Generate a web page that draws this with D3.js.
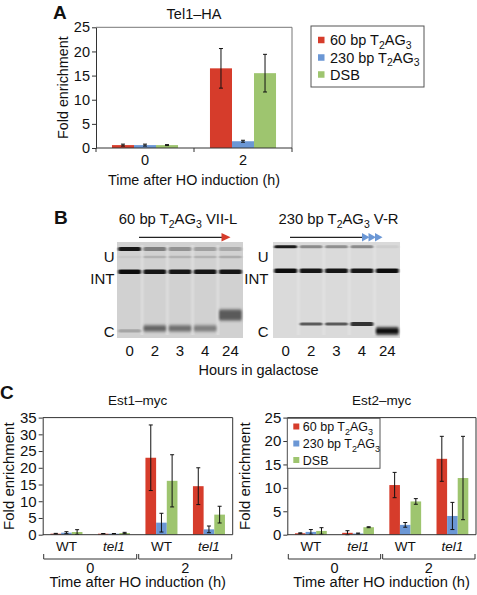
<!DOCTYPE html>
<html><head><meta charset="utf-8">
<script src="https://cdn.jsdelivr.net/npm/d3@7"></script>
<style>
body{margin:0;background:#fff}
svg{display:block;font-family:"Liberation Sans",Arial,Helvetica,sans-serif;fill:#111}
</style>
</head><body>
<svg id="c" width="477" height="595"></svg>
<script>
// ---------- shared series ----------
const seriesNames = ["60 bp T_2AG_3", "230 bp T_2AG_3", "DSB"];
const seriesColors = ["#d63c2b", "#6b97d5", "#9ec56f"];

// ---------- Panel A: Tel1-HA ----------
const tel1Categories = ["0", "2"];
const tel1Values = [[0.6, 0.6, 0.6], [16.5, 1.4, 15.5]];
const tel1Errors = [[0.2, 0.2, 0.1], [4.1, 0.2, 3.9]];
const tel1Ticks = [0, 5, 10, 15, 20, 25];

// ---------- Panel C ----------
const estStrains = ["WT", "tel1", "WT", "tel1"];
const estTimes = ["0", "2"];
const est1Values = [[0.3, 0.6, 0.8], [0.3, 0.3, 0.5], [23.0, 3.6, 16.1], [14.5, 1.6, 6.0]];
const est1Errors = [[0.1, 0.3, 0.7], [0.05, 0.05, 0.2], [9.8, 2.8, 7.8], [5.5, 1.0, 2.5]];
const est1Ticks = [0, 5, 10, 15, 20, 25, 30, 35];
const est2Values = [[0.3, 0.6, 0.8], [0.4, 0.25, 1.6], [10.6, 2.1, 7.1], [16.2, 4.0, 12.1]];
const est2Errors = [[0.1, 0.5, 0.7], [0.45, 0.1, 0.1], [2.7, 0.5, 0.6], [4.8, 2.9, 8.9]];
const est2Ticks = [0, 5, 10, 15, 20, 25];

// ---------- Panel B: gels ----------
const gelLanes = ["0", "2", "3", "4", "24"];
const gelTitles = ["60 bp T_2AG_3 VII-L", "230 bp T_2AG_3 V-R"];
// migration position (0 = top of gel, 1 = bottom) and darkness (0..1) per lane
const gel1U = {pos: [0.073, 0.073, 0.073, 0.073, 0.073], dark: [0.95, 0.42, 0.32, 0.25, 0.2]};
const gel1Faint = {pos: [0.156, 0.156, 0.156, 0.156, 0.156], dark: [0.05, 0.15, 0.15, 0.15, 0.18]};
const gel1INT = {pos: [0.31, 0.31, 0.31, 0.31, 0.31], dark: [0.97, 0.95, 0.95, 0.95, 0.95]};
const gel1C = {pos: [0.925, 0.9, 0.9, 0.9, 0.76], dark: [0.22, 0.55, 0.5, 0.42, 0.6], spread: [1, 1.9, 1.9, 1.9, 3.4]};
const gel2U = {pos: [0.049, 0.049, 0.049, 0.049, 0.049], dark: [0.92, 0.38, 0.36, 0.38, 0.06]};
const gel2INT = {pos: [0.30, 0.30, 0.30, 0.30, 0.30], dark: [0.97, 0.95, 0.95, 0.96, 0.97]};
const gel2C = {pos: [0.854, 0.854, 0.854, 0.854, 0.927], dark: [0.0, 0.62, 0.62, 0.82, 0.99], spread: [1, 1, 1, 1.2, 2.2]};

const svg = d3.select("#c");
const FONT = '"Liberation Sans",Arial,Helvetica,sans-serif';

// add text with _d subscripts
function subText(sel, str, subSize) {
  const parts = str.split(/_(\d)/);
  parts.forEach((p, i) => {
    if (!p) return;
    if (i % 2 === 1) {
      sel.append("tspan").attr("dy", 3.5).attr("font-size", subSize).text(p);
    } else {
      const t = sel.append("tspan").text(p);
      if (i > 0) t.attr("dy", -3.5);
    }
  });
  return sel;
}

function txt(x, y, s, size, anchor, extra) {
  const t = svg.append("text").attr("x", x).attr("y", y)
    .attr("font-size", size).attr("text-anchor", anchor || "middle").text(s);
  if (extra) extra(t);
  return t;
}

// generic grouped bar chart
function barChart(cfg) {
  const g = svg.append("g");
  const x0 = d3.scaleBand().domain(d3.range(cfg.values.length)).range([cfg.left, cfg.right]);
  const bw = x0.bandwidth(), gw = bw * 0.674;
  const x1 = d3.scaleBand().domain(d3.range(seriesNames.length)).range([(bw - gw) / 2, (bw + gw) / 2]);
  const y = d3.scaleLinear().domain([0, d3.max(cfg.ticks)]).range([cfg.bottom, cfg.top]);

  g.append("path")
    .attr("d", `M${cfg.left},${y(d3.max(cfg.ticks))}H${cfg.right}V${y(0)}`)
    .attr("fill", "none").attr("stroke", cfg.boxColor).attr("stroke-width", 1);

  cfg.values.forEach((vals, i) => {
    vals.forEach((v, j) => {
      g.append("rect")
        .attr("x", x0(i) + x1(j)).attr("y", y(v))
        .attr("width", x1.bandwidth()).attr("height", y(0) - y(v))
        .attr("fill", seriesColors[j]);
    });
  });
  cfg.values.forEach((vals, i) => {
    vals.forEach((v, j) => {
      const cx = x0(i) + x1(j) + x1.bandwidth() / 2;
      const e = cfg.errors[i][j];
      const y1 = y(v + e), y2 = y(Math.max(0, v - e));
      g.append("path")
        .attr("d", `M${cx},${y1}V${y2}M${cx - 2},${y1}H${cx + 2}M${cx - 2},${y2}H${cx + 2}`)
        .attr("stroke", "#111").attr("stroke-width", 1).attr("fill", "none");
    });
  });

  const ax = g.append("g").attr("transform", `translate(${cfg.left},0)`)
    .call(d3.axisLeft(y).tickValues(cfg.ticks).tickSize(4).tickSizeOuter(0).tickPadding(2));
  ax.select(".domain").attr("stroke", "#333");
  ax.selectAll(".tick line").attr("stroke", "#333");
  ax.selectAll("text").attr("font-size", cfg.tickSize).attr("font-family", FONT).attr("fill", "#111");

  g.append("line").attr("x1", cfg.left).attr("x2", cfg.right)
    .attr("y1", y(0)).attr("y2", y(0)).attr("stroke", "#333");
  if (cfg.xTicks) {
    d3.range(cfg.values.length + 1).forEach(i => {
      const xx = i < cfg.values.length ? x0(i) : cfg.right;
      g.append("line").attr("x1", xx).attr("x2", xx).attr("y1", y(0)).attr("y2", y(0) + 4).attr("stroke", "#333");
    });
  }
  cfg.cats.forEach((c, i) => {
    const t = txt(x0(i) + bw / 2, cfg.catY, c, cfg.catSize);
    if (c === "tel1") t.attr("font-style", "italic");
  });
  svg.append("text").attr("transform", `translate(${cfg.yLabelX},${(cfg.top + cfg.bottom) / 2}) rotate(-90)`)
    .attr("text-anchor", "middle").attr("font-size", cfg.yLabelSize).text("Fold enrichment");
  return {x0, y};
}

function legend(x, y, w, h, rowYs, size, marker, textX) {
  svg.append("rect").attr("x", x).attr("y", y).attr("width", w).attr("height", h)
    .attr("fill", "#fff").attr("stroke", "#555").attr("stroke-width", 1);
  seriesNames.forEach((s, i) => {
    svg.append("rect").attr("x", x + marker[0]).attr("y", rowYs[i] - marker[1] / 2)
      .attr("width", marker[1]).attr("height", marker[1]).attr("fill", seriesColors[i]);
    const t = svg.append("text").attr("x", x + textX).attr("y", rowYs[i] + size * 0.36)
      .attr("font-size", size);
    subText(t, s, size * 0.72);
  });
}

// ================= Panel A =================
txt(53, 19, "A", 19, "start", t => t.attr("font-weight", "bold"));
txt(194, 19, "Tel1\u2013HA", 14.5);
barChart({
  values: tel1Values, errors: tel1Errors, ticks: tel1Ticks, cats: tel1Categories,
  left: 96, right: 292, top: 27.3, bottom: 148, boxColor: "#777",
  tickSize: 14.5, catY: 165, catSize: 14.5, yLabelX: 68, yLabelSize: 14.3, xTicks: true
});
txt(194, 185, "Time after HO induction (h)", 14.3);
legend(311, 26, 113, 61, [40, 57.5, 74.5], 14.5, [7, 6.5], 19);

// ================= Panel B =================
txt(54, 224, "B", 19, "start", t => t.attr("font-weight", "bold"));
const defs = svg.append("defs");
defs.append("filter").attr("id", "blur1").attr("x", "-20%").attr("y", "-100%").attr("width", "140%").attr("height", "300%")
  .append("feGaussianBlur").attr("stdDeviation", "0.8 0.75");
defs.append("filter").attr("id", "blur2").attr("x", "-20%").attr("y", "-100%").attr("width", "140%").attr("height", "300%")
  .append("feGaussianBlur").attr("stdDeviation", "1.1 1.5");
defs.append("filter").attr("id", "blur3").attr("x", "-50%").attr("y", "-5%").attr("width", "200%").attr("height", "110%")
  .append("feGaussianBlur").attr("stdDeviation", "0.8 0");

function gel(cfg) {
  const g = svg.append("g");
  const x = d3.scaleBand().domain(gelLanes).range([cfg.left, cfg.right]);
  const y = d3.scaleLinear().domain([0, 1]).range([cfg.top, cfg.bottom]);
  const bg = cfg.bg;
  const col = d3.interpolateRgb(bg, "#0b0b0b");
  g.append("rect").attr("x", cfg.left).attr("y", cfg.top)
    .attr("width", cfg.right - cfg.left).attr("height", cfg.bottom - cfg.top).attr("fill", bg);
  // lighter thin gaps between lanes
  gelLanes.slice(1).forEach(l => {
    g.append("rect").attr("x", x(l) - 1).attr("y", cfg.top + 3)
      .attr("width", 2).attr("height", cfg.bottom - cfg.top - 6)
      .attr("fill", cfg.gapTint).attr("filter", "url(#blur3)");
  });
  cfg.bands.forEach(b => {
    gelLanes.forEach((l, i) => {
      if (b.data.dark[i] <= 0.01) return;
      const h = b.h * (b.data.spread ? b.data.spread[i] : 1);
      g.append("rect").attr("x", x(l) + x.bandwidth() * 0.05).attr("y", y(b.data.pos[i]) - h / 2)
        .attr("width", x.bandwidth() * 0.9).attr("height", h)
        .attr("rx", 1.5)
        .attr("fill", col(b.data.dark[i]))
        .attr("filter", h > 5 ? "url(#blur2)" : "url(#blur1)");
    });
  });
  gelLanes.forEach(l => txt(x(l) + x.bandwidth() / 2, 355.5, l, 15));
  [["U", 262], ["INT", 283.5], ["C", 337]].forEach(([s, yy]) => txt(cfg.labelX, yy, s, 15, "end"));
  const t = txt((cfg.left + cfg.right) / 2 + cfg.titleShift, 224, "", 14.8);
  subText(t, cfg.title, 10.5);
  return x;
}

gel({left: 117, right: 243, top: 242, bottom: 338, bg: "#d1d1d1", gapTint: "#e2e2e2", labelX: 114.5,
  title: gelTitles[0], titleShift: -2,
  bands: [{data: gel1U, h: 4}, {data: gel1Faint, h: 2.5}, {data: gel1INT, h: 4.5}, {data: gel1C, h: 3.2}]});
gel({left: 273, right: 400, top: 242, bottom: 338, bg: "#dadada", gapTint: "#e4e4e4", labelX: 268.5,
  title: gelTitles[1], titleShift: 2,
  bands: [{data: gel2U, h: 3}, {data: gel2INT, h: 4.5}, {data: gel2C, h: 3.2}]});

// arrows
svg.append("line").attr("x1", 139).attr("x2", 223).attr("y1", 237.3).attr("y2", 237.3)
  .attr("stroke", "#222").attr("stroke-width", 1.3);
svg.append("path").attr("d", "M221.5,233L230.5,237.3L221.5,241.6Z").attr("fill", "#d63c2b");
svg.append("line").attr("x1", 290).attr("x2", 363).attr("y1", 237.3).attr("y2", 237.3)
  .attr("stroke", "#222").attr("stroke-width", 1.3);
[362, 368.5, 375].forEach(x0 => {
  svg.append("path").attr("d", `M${x0},233L${x0 + 7.5},237.3L${x0},241.6Z`).attr("fill", "#6b97d5");
});
txt(258.5, 375, "Hours in galactose", 14.5);

// ================= Panel C =================
txt(0, 399, "C", 19, "start", t => t.attr("font-weight", "bold"));

function estPanel(values, errors, ticks, left, right, title, yLabelX) {
  const r = barChart({
    values, errors, ticks, cats: estStrains,
    left, right, top: 417.6, bottom: 534.7, boxColor: "#333",
    tickSize: 15, catY: 551, catSize: 13.5, yLabelX, yLabelSize: 15, xTicks: false
  });
  txt((left + right) / 2, 405, title, 13.5);
  estTimes.forEach((tm, k) => {
    const a = r.x0(k * 2) + 1, b = (k === 0 ? r.x0(2) : right) - 1;
    svg.append("path").attr("d", `M${a},554V559H${b}V554`).attr("fill", "none")
      .attr("stroke", "#333").attr("stroke-width", 1);
    txt((a + b) / 2, 572.5, tm, 14.5);
  });
  txt((left + right) / 2, 587, "Time after HO induction (h)", 14.7);
  return r;
}
estPanel(est1Values, est1Errors, est1Ticks, 42.7, 232.7, "Est1\u2013myc", 14);
estPanel(est2Values, est2Errors, est2Ticks, 287.3, 476, "Est2\u2013myc", 250);
legend(287.3, 418.3, 92.7, 50, [426.5, 443.5, 460], 12.5, [6, 6], 15.5);
</script>
</body></html>
